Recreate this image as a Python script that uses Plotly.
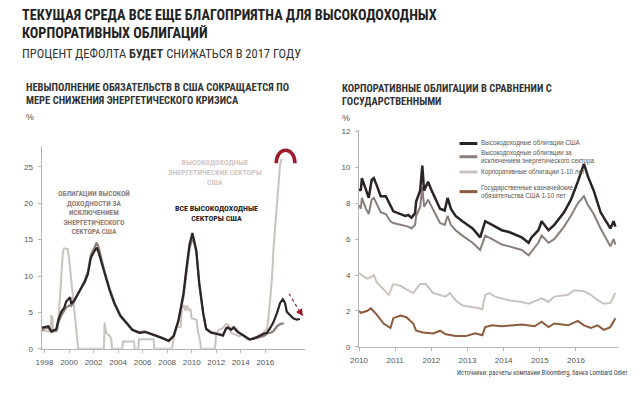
import plotly.graph_objects as go

BLACK = "#2b2324"
TAUPE = "#8a7e7a"
LIGHT = "#cac2bf"
RUST = "#8c5b3e"
RED = "#9c1c2c"
AXIS = "#b5b5b5"
TEXT = "#333333"
NARROW = "Liberation Sans Narrow, Arial Narrow, Roboto Condensed, sans-serif"
SANS = "Liberation Sans, Arial, sans-serif"

# --- left chart: default rates, %
hy_all_x = [1997.76, 1998.0, 1998.32, 1998.56, 1998.96, 1999.13, 1999.37, 1999.6, 1999.77,
            2000.09, 2000.17, 2000.4, 2000.57, 2000.97, 2001.3, 2001.54, 2001.78, 2002.1,
            2002.26, 2002.42, 2002.58, 2002.9, 2003.3, 2003.7, 2004.19, 2004.75, 2005.15,
            2005.4, 2005.72, 2006.2, 2006.76, 2007.16, 2007.57, 2008.13, 2008.53, 2008.93,
            2009.33, 2009.58, 2009.82, 2010.06, 2010.2, 2010.38, 2010.62, 2010.94, 2011.18,
            2011.59, 2012.15, 2012.55, 2012.8, 2012.95, 2013.2, 2013.43, 2013.76, 2014.08,
            2014.4, 2014.72, 2015.04, 2015.36, 2015.68, 2015.92, 2016.14, 2016.41, 2016.65,
            2016.95, 2017.21, 2017.43, 2017.61, 2017.75, 2018.01, 2018.28, 2018.56, 2018.82]
hy_all_y = [2.9, 3.0, 3.1, 2.4, 2.7, 4.0, 5.1, 5.6, 6.5,
            7.1, 6.2, 6.6, 7.1, 8.3, 9.2, 10.3, 12.5, 13.5,
            13.9, 13.2, 12.3, 10.3, 8.1, 6.2, 4.5, 3.4, 2.6,
            2.4, 2.2, 2.3, 2.0, 1.8, 1.5, 1.1, 1.8, 4.0,
            7.6, 11.2, 14.3, 15.9, 15.0, 13.5, 9.0, 4.9, 2.7,
            2.2, 2.0, 1.8, 2.8, 2.9, 2.6, 2.9, 2.3, 2.0,
            1.6, 1.3, 1.4, 1.6, 1.9, 2.1, 2.2, 2.9, 3.6,
            4.9, 6.3, 6.8, 6.3, 5.1, 4.7, 4.2, 4.0, 4.1]

hy_exen_x = [1997.76, 1998.0, 1998.32, 1998.56, 1998.96, 1999.13, 1999.37, 1999.6, 1999.77,
             2000.09, 2000.17, 2000.4, 2000.57, 2000.97, 2001.3, 2001.54, 2001.78, 2002.1,
             2002.26, 2002.42, 2002.58, 2002.9, 2003.3, 2003.7, 2004.19, 2004.75, 2005.15,
             2005.4, 2005.72, 2006.2, 2006.76, 2007.16, 2007.57, 2008.13, 2008.53, 2008.93,
             2009.33, 2009.58, 2009.82, 2010.06, 2010.2, 2010.38, 2010.62, 2010.94, 2011.18,
             2011.59, 2012.15, 2012.55, 2012.8, 2012.95, 2013.2, 2013.43, 2013.76, 2014.08,
             2014.4, 2014.72, 2015.04, 2015.36, 2015.92, 2016.14, 2016.41, 2016.65, 2016.95,
             2017.21, 2017.5]
hy_exen_y = [2.6, 2.8, 2.9, 2.3, 2.5, 3.6, 4.6, 5.2, 5.7,
             6.0, 5.9, 6.4, 7.0, 8.4, 9.5, 10.6, 12.9, 14.0,
             14.6, 13.9, 12.8, 10.6, 8.3, 6.4, 4.6, 3.5, 2.7,
             2.5, 2.3, 2.4, 2.1, 1.8, 1.5, 1.1, 1.7, 3.8,
             7.2, 10.8, 13.8, 15.2, 14.6, 13.2, 8.8, 4.8, 2.8,
             2.3, 2.1, 1.9, 2.7, 3.0, 2.7, 3.0, 2.4, 2.0,
             1.7, 1.3, 1.4, 1.5, 1.8, 2.1, 2.2, 2.4, 3.1,
             3.4, 3.5]

hy_energy_x = [1997.76, 1998.3, 1998.5, 1998.55, 1998.65, 1998.7, 1999.0, 1999.1, 1999.3,
               1999.5, 1999.6, 1999.9, 2000.0, 2000.2, 2000.45, 2000.6, 2000.75, 2002.85,
               2002.9, 2003.05, 2003.3, 2003.45, 2003.5, 2004.35, 2004.4, 2005.3, 2005.35,
               2005.65, 2005.7, 2006.9, 2006.95, 2008.4, 2008.5, 2008.8, 2009.1, 2009.2,
               2009.35, 2009.5, 2009.6, 2009.75, 2009.9, 2010.0, 2010.4, 2010.5, 2010.7,
               2010.75, 2011.9, 2012.0, 2012.2, 2012.5, 2012.8, 2013.0, 2013.2, 2013.5,
               2013.9, 2014.2, 2014.5, 2014.8, 2015.0, 2015.5, 2015.9, 2016.14, 2016.27,
               2016.41, 2016.54, 2016.68, 2016.95, 2017.08, 2017.21, 2017.35]
hy_energy_y = [2.5, 2.4, 2.5, 4.5, 4.4, 2.5, 2.4, 3.0, 8.0,
               13.3, 13.8, 13.7, 12.5, 9.0, 4.5, 2.0, 0.0, 0.0,
               3.6, 2.1, 1.8, 1.3, 0.0, 0.0, 1.0, 1.0, 0.0,
               0.0, 1.3, 1.3, 0.0, 0.0, 1.2, 3.0, 3.0, 5.5,
               6.0, 5.2, 6.0, 5.3, 5.4, 4.2, 4.0, 2.5, 1.0,
               0.0, 0.0, 2.0, 2.6, 2.8, 3.4, 3.3, 2.2, 2.0,
               1.7, 2.0, 1.3, 1.2, 1.5, 1.8, 2.3, 2.7, 4.5,
               6.7, 9.5, 14.0, 19.7, 23.4, 25.4, 26.1]

left_ticks = [1998, 2000, 2002, 2004, 2006, 2008, 2010, 2012, 2014, 2016]

# --- right chart: yields, %
hy_us_x = [2010.0, 2010.05, 2010.08, 2010.19, 2010.27, 2010.35, 2010.41, 2010.49, 2010.6,
           2010.74, 2010.87, 2010.95, 2011.15, 2011.28, 2011.36, 2011.45, 2011.55, 2011.58,
           2011.69, 2011.75, 2011.8, 2011.91, 2011.99, 2012.1, 2012.24, 2012.37, 2012.45,
           2012.54, 2012.67, 2012.86, 2013.14, 2013.35, 2013.49, 2013.68, 2013.95, 2014.15,
           2014.5, 2014.69, 2014.77, 2014.96, 2015.05, 2015.24, 2015.4, 2015.67, 2015.86,
           2016.05, 2016.22, 2016.33, 2016.49, 2016.68, 2016.87, 2016.95, 2017.04, 2017.09]
hy_us_y = [8.8, 8.7, 9.4, 8.7, 8.3, 9.3, 9.4, 9.0, 8.4,
           8.4, 7.9, 7.55, 7.4, 7.3, 7.35, 7.2, 7.45, 8.1,
           8.7, 10.1, 8.7, 9.2, 8.8, 8.3, 7.7, 7.6, 8.3,
           7.7, 7.3, 7.0, 6.6, 6.1, 7.0, 6.8, 6.5, 6.4,
           6.1, 5.8, 6.1, 6.5, 7.0, 6.5, 6.8, 7.5, 8.2,
           9.2, 10.2, 9.5, 8.7, 7.5, 6.9, 6.6, 7.0, 6.7]
hy_us_exen_y = [7.9, 7.7, 8.3, 7.7, 7.4, 8.2, 8.3, 8.0, 7.5,
                7.4, 7.0, 6.9, 6.8, 6.7, 6.7, 6.6, 6.8, 7.3,
                7.8, 8.9, 7.8, 8.2, 7.9, 7.4, 6.9, 6.8, 7.3,
                6.8, 6.5, 6.2, 5.8, 5.4, 6.2, 6.0, 5.7, 5.6,
                5.4, 5.1, 5.3, 5.8, 6.2, 5.8, 6.0, 6.7, 7.3,
                8.0, 8.4, 7.9, 7.4, 6.6, 5.9, 5.6, 6.0, 5.7]

corp_x = [2010.0, 2010.22, 2010.35, 2010.41, 2010.49, 2010.68, 2010.82, 2010.95, 2011.15,
          2011.31, 2011.5, 2011.69, 2011.85, 2012.05, 2012.24, 2012.4, 2012.51, 2012.67,
          2012.86, 2013.05, 2013.33, 2013.41, 2013.49, 2013.6, 2013.76, 2014.15, 2014.5,
          2014.69, 2015.05, 2015.24, 2015.4, 2015.78, 2015.95, 2016.22, 2016.41, 2016.6,
          2016.77, 2016.95, 2017.04, 2017.09]
corp_y = [4.1, 3.8, 3.9, 4.0, 3.6, 3.2, 2.9, 3.5, 3.4,
          3.2, 3.0, 3.5, 3.5, 3.0, 2.9, 2.8, 3.0, 2.6,
          2.3, 2.25, 2.15, 2.1, 2.9, 3.0, 2.8, 2.6, 2.5,
          2.4, 2.7, 2.5, 2.8, 2.9, 3.15, 3.1, 2.9, 2.6,
          2.4, 2.45, 2.8, 3.0]

tsy_x = [2010.0, 2010.05, 2010.22, 2010.33, 2010.49, 2010.68, 2010.87, 2010.95, 2011.15,
         2011.31, 2011.5, 2011.58, 2011.77, 2012.05, 2012.24, 2012.4, 2012.67, 2012.95,
         2013.22, 2013.41, 2013.49, 2013.68, 2013.95, 2014.22, 2014.5, 2014.86, 2015.05,
         2015.24, 2015.4, 2015.78, 2016.05, 2016.22, 2016.41, 2016.6, 2016.77, 2016.95,
         2017.04, 2017.09]
tsy_y = [2.0, 1.9, 2.0, 2.15, 1.8, 1.3, 1.05, 1.6, 1.75,
         1.65, 1.3, 0.9, 0.8, 0.75, 0.9, 0.7, 0.6, 0.6,
         0.75, 0.65, 1.1, 1.2, 1.15, 1.2, 1.25, 1.15, 1.4,
         1.1, 1.3, 1.2, 1.45, 1.2, 1.05, 1.2, 0.95, 1.1,
         1.4, 1.6]

right_ticks = [2010, 2011, 2012, 2013, 2014, 2015, 2016]

legend_names = [
    "Высокодоходные облигации США",
    "Высокодоходные облигации за<br>исключением энергетического сектора",
    "Корпоративные облигации 1-10 лет",
    "Государственные казначейские<br>обязательства США 1-10 лет",
]

fig = go.Figure()
fig.add_trace(go.Scatter(x=hy_energy_x, y=hy_energy_y, mode="lines",
                         line=dict(color=LIGHT, width=2), xaxis="x", yaxis="y"))
fig.add_trace(go.Scatter(x=hy_exen_x, y=hy_exen_y, mode="lines",
                         line=dict(color=TAUPE, width=2.2), xaxis="x", yaxis="y"))
fig.add_trace(go.Scatter(x=hy_all_x, y=hy_all_y, mode="lines",
                         line=dict(color=BLACK, width=2.2), xaxis="x", yaxis="y"))

fig.add_trace(go.Scatter(x=tsy_x, y=tsy_y, mode="lines",
                         line=dict(color=RUST, width=2), xaxis="x2", yaxis="y2"))
fig.add_trace(go.Scatter(x=corp_x, y=corp_y, mode="lines",
                         line=dict(color=LIGHT, width=2), xaxis="x2", yaxis="y2"))
fig.add_trace(go.Scatter(x=hy_us_x, y=hy_us_exen_y, mode="lines",
                         line=dict(color=TAUPE, width=2), xaxis="x2", yaxis="y2"))
fig.add_trace(go.Scatter(x=hy_us_x, y=hy_us_y, mode="lines",
                         line=dict(color=BLACK, width=2.5), xaxis="x2", yaxis="y2"))

axis_style = dict(showline=True, linecolor=AXIS, linewidth=1, ticks="outside",
                  ticklen=3, tickcolor=AXIS, showgrid=False, zeroline=False,
                  ticklabelstandoff=3,
                  tickfont=dict(family=SANS, size=8, color="#555"))

fig.update_layout(
    width=640, height=400, autosize=False,
    paper_bgcolor="white", plot_bgcolor="white",
    margin=dict(l=0, r=0, t=0, b=0),
    showlegend=False,
    xaxis=dict(domain=[33 / 640, 300 / 640], range=[1997.76, 2019.22],
               tickvals=left_ticks, anchor="y", **axis_style),
    yaxis=dict(domain=[1 - 353 / 400, 1 - 147 / 400], range=[0, 27.8],
               tickvals=[0, 5, 10, 15, 20, 25], anchor="x", **axis_style),
    xaxis2=dict(domain=[355 / 640, 618 / 640], range=[2010.0, 2017.17],
                tickvals=right_ticks, anchor="y2", **axis_style),
    yaxis2=dict(domain=[1 - 351 / 400, 1 - 130 / 400], range=[0, 12.1],
                tickvals=[0, 2, 4, 6, 8, 10, 12], anchor="x2", **axis_style),
)


def note(text, x, y, size, color=TEXT, bold=False, family=NARROW, xanchor="left", align="left"):
    if bold:
        text = "<b>" + text + "</b>"
    fig.add_annotation(text=text, x=x / 640, y=1 - y / 400, xref="paper", yref="paper",
                       xanchor=xanchor, yanchor="middle", showarrow=False, align=align,
                       font=dict(family=family, size=size, color=color))


note("ТЕКУЩАЯ СРЕДА ВСЕ ЕЩЕ БЛАГОПРИЯТНА ДЛЯ ВЫСОКОДОХОДНЫХ", 11, 13, 14.2, "#222", True)
note("КОРПОРАТИВНЫХ ОБЛИГАЦИЙ", 11, 32, 14.2, "#222", True)
note("ПРОЦЕНТ ДЕФОЛТА <b>БУДЕТ</b> СНИЖАТЬСЯ В 2017 ГОДУ", 11, 52, 12.5, "#333")

note("НЕВЫПОЛНЕНИЕ ОБЯЗАТЕЛЬСТВ В США СОКРАЩАЕТСЯ ПО", 15, 87, 10.5, TEXT, True)
note("МЕРЕ СНИЖЕНИЯ ЭНЕРГЕТИЧЕСКОГО КРИЗИСА", 15, 100, 10.5, TEXT, True)
note("%", 15, 117, 9, "#555", family=SANS)

note("КОРПОРАТИВНЫЕ ОБЛИГАЦИИ В СРАВНЕНИИ С", 336, 88, 10.5, TEXT, True)
note("ГОСУДАРСТВЕННЫМИ", 336, 101, 10.5, TEXT, True)
note("%", 336, 118, 9, "#555", family=SANS)

note("ОБЛИГАЦИИ ВЫСОКОЙ<br>ДОХОДНОСТИ ЗА<br>ИСКЛЮЧЕНИЕМ<br>ЭНЕРГЕТИЧЕСКОГО<br>СЕКТОРА США",
     86, 214, 7.4, "#8e807b", True, xanchor="center", align="center")
note("ВЫСОКОДОХОДНЫЕ<br>ЭНЕРГЕТИЧЕСКИЕ СЕКТОРЫ<br>США", 209, 174, 7.8, "#cfc7c4",
     True, xanchor="center", align="center")
note("ВСЕ ВЫСОКОДОХОДНЫЕ<br>СЕКТОРЫ США", 210, 215.5, 8, "#222", True,
     xanchor="center", align="center")

note("Источники: расчеты компании Bloomberg, банка Lombard Odier", 452, 378, 6.5, "#444")

# right chart legend
legend_colors = [BLACK, TAUPE, LIGHT, RUST]
legend_y = [144, 157.5, 173, 193]
for name, color, ly in zip(legend_names, legend_colors, legend_y):
    fig.add_shape(type="line", xref="paper", yref="paper", x0=457 / 640, x1=475 / 640,
                  y0=1 - ly / 400, y1=1 - ly / 400, line=dict(color=color, width=3))
    note(name, 477, ly, 6.3, "#555", family=SANS)

# red marks: arc over the energy peak and dashed downward arrow
fig.add_shape(type="path", xref="x", yref="y",
              path="M 2016.89,25.5 C 2016.89,27.85 2018.42,27.85 2018.42,25.5",
              line=dict(color=RED, width=3.5))
fig.add_shape(type="line", xref="x", yref="y", x0=2017.94, y0=7.57, x1=2018.95, y1=4.7,
              line=dict(color=RED, width=1.2, dash="dot"))
fig.add_annotation(x=2019.06, y=4.46, ax=2018.9, ay=4.9, xref="x", yref="y",
                   axref="x", ayref="y", text="", showarrow=True, arrowhead=2,
                   arrowsize=1.2, arrowwidth=1.2, arrowcolor=RED)

fig.write_html("out.html", config={"displayModeBar": False},
               post_script="document.body.style.margin='0';"
                           "document.body.style.overflow='hidden';")
